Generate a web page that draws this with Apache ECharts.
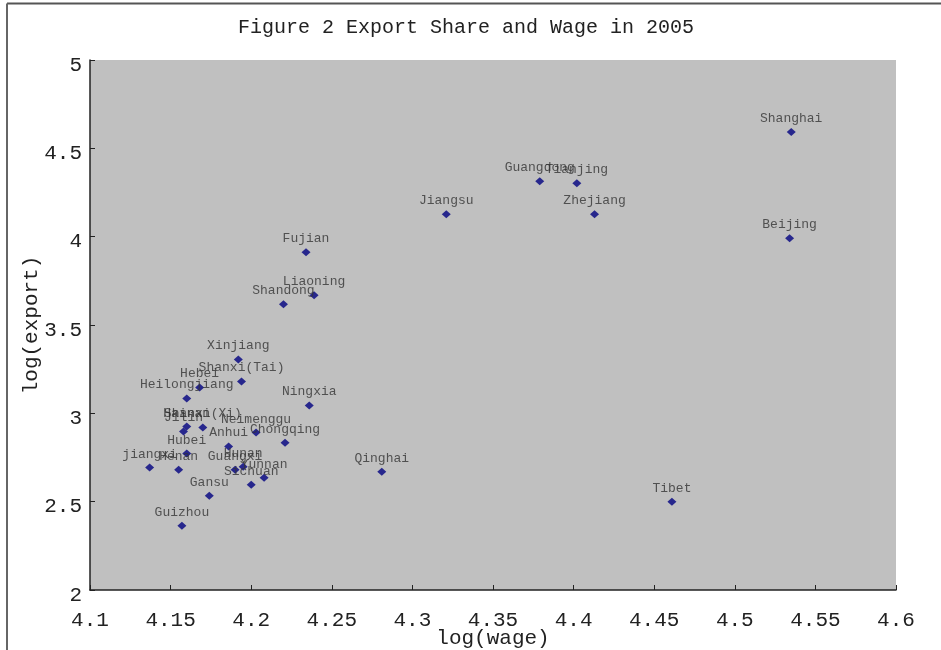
<!DOCTYPE html>
<html>
<head>
<meta charset="utf-8">
<script src="https://cdn.jsdelivr.net/npm/echarts@6/dist/echarts.min.js"></script>
<style>html,body{margin:0;padding:0;background:#fff}#c{width:941px;height:650px}</style>
</head>
<body>
<div id="c"></div>
<script>
var provinces = ["Shanghai","Beijing","Tianjing","Guangdong","Zhejiang","Jiangsu","Fujian","Liaoning","Shandong","Xinjiang","Shanxi(Tai)","Ningxia","Hebei","Heilongjiang","Hainan","Jilin","Shanxi(Xi)","Neimenggu","Chongqing","Anhui","Hubei","jiangxi","Henan","Guangxi","Hunan","Yunnan","Sichuan","Gansu","Guizhou","Qinghai","Tibet"];
var wage = [4.535,4.534,4.402,4.379,4.413,4.321,4.234,4.239,4.220,4.192,4.194,4.236,4.168,4.160,4.160,4.158,4.170,4.203,4.221,4.186,4.160,4.137,4.155,4.190,4.195,4.208,4.200,4.174,4.157,4.281,4.461];
var exportV = [4.592,3.991,4.303,4.314,4.127,4.127,3.912,3.668,3.617,3.305,3.180,3.044,3.146,3.084,2.925,2.897,2.920,2.891,2.834,2.812,2.772,2.693,2.681,2.681,2.698,2.636,2.596,2.534,2.364,2.670,2.500];
var xTickLabels = ["4.1","4.15","4.2","4.25","4.3","4.35","4.4","4.45","4.5","4.55","4.6"];
var yTickLabels = ["2","2.5","3","3.5","4","4.5","5"];
var titleText = "Figure 2 Export Share and Wage in 2005";
var xName = "log(wage)";
var yName = "log(export)";

var pts = provinces.map(function(p, i){ return {name: p, value: [wage[i], exportV[i]]}; });
var FONT = "Liberation Mono";
var chart = echarts.init(document.getElementById('c'), null, {renderer: 'canvas'});
chart.setOption({
  backgroundColor: '#ffffff',
  animation: false,
  title: {
    text: titleText, left: 233, top: 13,
    textStyle: {fontFamily: FONT, fontSize: 20, fontWeight: 'normal', color: '#222'}
  },
  graphic: [
    {type: 'line', shape: {x1: 7, y1: 3.5, x2: 941, y2: 3.5}, style: {stroke: '#555', lineWidth: 2}},
    {type: 'line', shape: {x1: 7, y1: 3.5, x2: 7, y2: 650}, style: {stroke: '#666', lineWidth: 2}}
  ],
  grid: {left: 90, right: 45, top: 60, bottom: 60, show: true, backgroundColor: '#c0c0c0', borderWidth: 0,
    containLabel: false, outerBoundsMode: 'none'},
  xAxis: {
    type: 'value', min: 4.1, max: 4.6, interval: 0.05,
    name: xName, nameLocation: 'middle', nameGap: 38, nameMoveOverlap: false,
    nameTextStyle: {fontFamily: FONT, fontSize: 21, color: '#222'},
    axisLine: {show: true, lineStyle: {color: '#222', width: 1.5}},
    axisTick: {show: true, inside: true, length: 5, lineStyle: {color: '#222'}},
    axisLabel: {margin: 20, fontFamily: FONT, fontSize: 21, color: '#222',
      formatter: function(v){ return xTickLabels[Math.round((v - 4.1) / 0.05)]; }},
    splitLine: {show: false}
  },
  yAxis: {
    type: 'value', min: 2, max: 5, interval: 0.5,
    name: yName, nameLocation: 'middle', nameGap: 48, nameRotate: 90, nameMoveOverlap: false,
    nameTextStyle: {fontFamily: FONT, fontSize: 21, color: '#222'},
    axisLine: {show: true, lineStyle: {color: '#222', width: 1.5}},
    axisTick: {show: true, inside: true, length: 5, lineStyle: {color: '#222'}},
    axisLabel: {margin: 8, color: '#222',
      formatter: function(v){ return '{a|' + yTickLabels[Math.round((v - 2) / 0.5)] + '}'; },
      rich: {a: {fontFamily: FONT, fontSize: 21, color: '#222', padding: [10, 0, 0, 0]}}},
    splitLine: {show: false}
  },
  series: [{
    type: 'scatter',
    symbol: 'diamond',
    symbolSize: [9, 8],
    itemStyle: {color: '#000080'},
    data: pts,
    label: {
      show: true, position: 'top', distance: 3,
      formatter: '{b}',
      fontFamily: FONT, fontSize: 13, color: '#333'
    },
    labelLayout: {hideOverlap: false}
  }]
});
</script>
</body>
</html>
